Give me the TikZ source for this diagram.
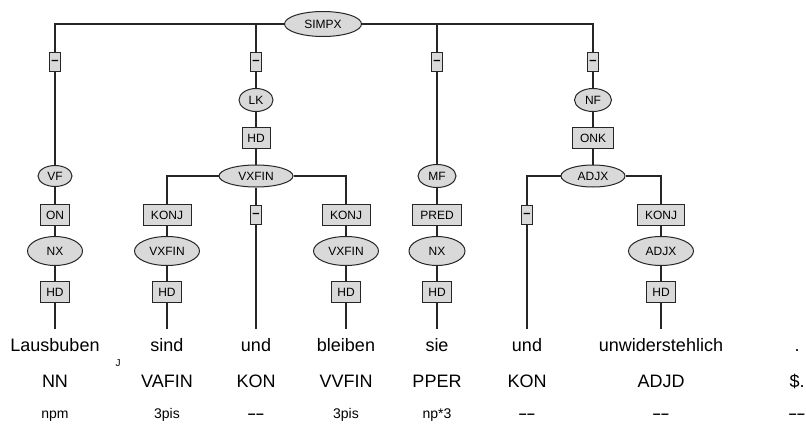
\documentclass[tikz,border=0pt]{standalone}
\usepackage{fontspec}
\setmainfont{Liberation Sans}
\usetikzlibrary{shapes.geometric,positioning}
\definecolor{Fill}{HTML}{D9D9D9}
\definecolor{Ink}{HTML}{262626}
\newcommand{\nomorph}{\textbf{\textendash\kern0.5pt\textendash}}

\begin{document}
\begin{tikzpicture}[x=1pt,y=-1pt,
  cat/.style={ellipse,draw=Ink,fill=Fill,line width=1pt,inner sep=0pt,minimum height=23pt,font=\fontsize{12}{12}\selectfont},
  lowcat/.style={cat,minimum height=29pt},
  lab/.style={rectangle,draw=Ink,fill=Fill,line width=1pt,inner sep=0pt,minimum height=21pt,font=\fontsize{12}{12}\selectfont},
  dashlab/.style={lab,minimum width=11pt,minimum height=19pt,font=\fontsize{13}{13}\bfseries},
  edge/.style={draw=Ink,line width=1.2pt},
  word/.style={anchor=base,inner xsep=0pt,inner ysep=9pt,text height=13pt,font=\fontsize{18}{20}\selectfont}]
  \useasboundingbox (0,0) rectangle (806,426);

  \foreach \x/\w/\p/\m [count=\i] in {55/Lausbuben/NN/npm,167/sind/VAFIN/3pis,256/und/KON/\nomorph,
      346/bleiben/VVFIN/3pis,437/sie/PPER/np*3,527/und/KON/\nomorph,661/unwiderstehlich/ADJD/\nomorph,797/./\$./\nomorph} {
    \node[word] (w\i) at (\x,351) {\w};
    \node[anchor=base,font=\fontsize{18}{20}\selectfont] (p\i) at (\x,387) {\p};
    \node[anchor=base,font=\fontsize{14}{16}\selectfont] (m\i) at (\x,418) {\m};
  }
  \node[anchor=base,font=\fontsize{10}{10}\selectfont] (stray) at (118,366) {J};

  \node[cat,minimum width=77pt,minimum height=25pt] (simpx) at (323,24) {SIMPX};
  \foreach \x [count=\i] in {55,256,437,593}
    \node[dashlab] (top\i) at (\x,62) {--};

  \node[cat,minimum width=34pt,minimum height=21pt] (vf) at (55,176) {VF};
  \node[cat,minimum width=34pt] (lk) at (256,100) {LK};
  \node[lab,minimum width=28pt] (hdlk) at (256,138) {HD};
  \node[cat,minimum width=74pt,minimum height=22pt] (vxfin) at (256,176) {VXFIN};
  \node[cat,minimum width=38pt] (mf) at (437,176) {MF};
  \node[cat,minimum width=37pt] (nf) at (593,100) {NF};
  \node[lab,minimum width=41pt] (onk) at (593,138) {ONK};
  \node[cat,minimum width=64pt,minimum height=22pt] (adjx) at (593,176) {ADJX};

  \node[lab,minimum width=29pt] (on) at (55,215) {ON};
  \node[lab,minimum width=48pt] (konja) at (167,215) {KONJ};
  \node[dashlab] (mid) at (256,215) {--};
  \node[lab,minimum width=48pt] (konjb) at (346,215) {KONJ};
  \node[lab,minimum width=49pt] (pred) at (437,215) {PRED};
  \node[dashlab] (midb) at (527,215) {--};
  \node[lab,minimum width=47pt] (konjc) at (661,215) {KONJ};

  \node[lowcat,minimum width=55pt] (nxa) at (55,251) {NX};
  \node[lowcat,minimum width=65pt] (vxa) at (167,251) {VXFIN};
  \node[lowcat,minimum width=65pt] (vxb) at (346,251) {VXFIN};
  \node[lowcat,minimum width=56pt] (nxb) at (437,251) {NX};
  \node[lowcat,minimum width=65pt] (adja) at (661,251) {ADJX};
  \foreach \x/\n in {55/a,167/b,346/c,437/d,661/e}
    \node[lab,minimum width=29pt] (hd\n) at (\x,292) {HD};

  \foreach \i in {1,...,4}
    \draw[edge] (simpx) -| (top\i);
  \draw[edge] (top1) -- (vf) -- (on) -- (nxa) -- (hda) -- (w1);
  \draw[edge] (top2) -- (lk) -- (hdlk) -- (vxfin);
  \draw[edge] (vxfin) -| (konja);
  \draw[edge] (vxfin) -| (konjb);
  \draw[edge] (vxfin) -- (mid) -- (w3);
  \draw[edge] (konja) -- (vxa) -- (hdb) -- (w2);
  \draw[edge] (konjb) -- (vxb) -- (hdc) -- (w4);
  \draw[edge] (top3) -- (mf) -- (pred) -- (nxb) -- (hdd) -- (w5);
  \draw[edge] (top4) -- (nf) -- (onk) -- (adjx);
  \draw[edge] (adjx) -| (midb);
  \draw[edge] (adjx) -| (konjc);
  \draw[edge] (midb) -- (w6);
  \draw[edge] (konjc) -- (adja) -- (hde) -- (w7);
\end{tikzpicture}
\end{document}
